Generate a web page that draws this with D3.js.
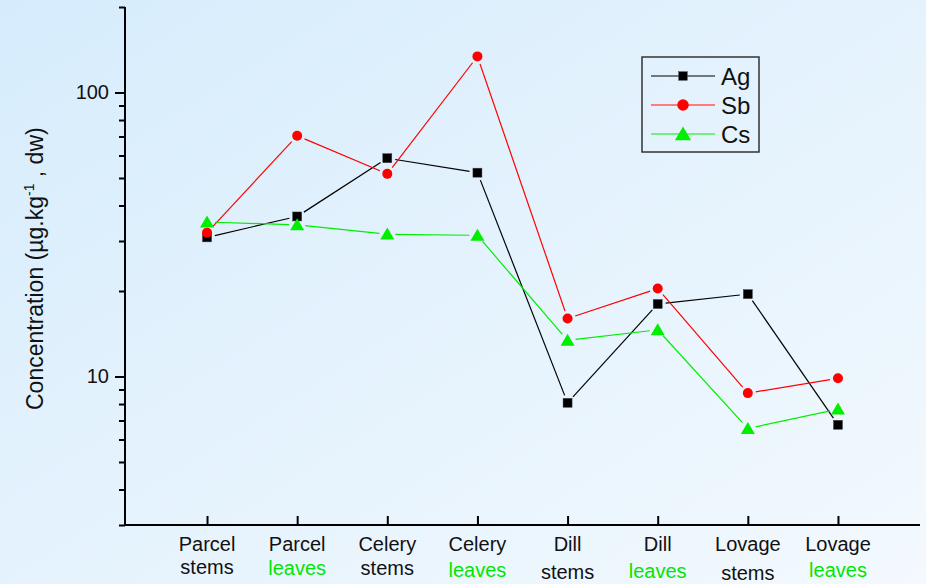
<!DOCTYPE html>
<html>
<head>
<meta charset="utf-8">
<script src="https://cdn.jsdelivr.net/npm/d3@7/dist/d3.min.js"></script>
<style>
  html, body { margin: 0; padding: 0; }
  svg { display: block; font-family: "Liberation Sans", Arial, sans-serif; }
</style>
</head>
<body>
<svg id="chart" width="926" height="584"></svg>
<script>
// Plant parts (two-line category labels)
const plants = ["Parcel", "Parcel", "Celery", "Celery", "Dill", "Dill", "Lovage", "Lovage"];
const parts  = ["stems", "leaves", "stems", "leaves", "stems", "leaves", "stems", "leaves"];

// Element concentrations, µg/kg dry weight
const agValues = [30.9, 36.6, 58.7, 52.2, 8.08, 18.0, 19.5, 6.76];
const sbValues = [32.1, 70.4, 51.7, 134, 16.0, 20.4, 8.74, 9.86];
const csValues = [35.0, 34.2, 31.7, 31.4, 13.4, 14.6, 6.56, 7.67];

const seriesNames = ["Ag", "Sb", "Cs"];

// Axis ticks
const majorTicks = [10, 100];
const minorTicks = [3, 4, 5, 6, 7, 8, 9, 20, 30, 40, 50, 60, 70, 80, 90, 200];

const svg = d3.select("#chart");
const W = 926, H = 584;

// soft blue background
const defs = svg.append("defs");
const grad = defs.append("linearGradient").attr("id", "bg")
  .attr("x1", "0").attr("y1", "0").attr("x2", "1").attr("y2", "1");
grad.append("stop").attr("offset", "0").attr("stop-color", "#d6ecfc");
grad.append("stop").attr("offset", "1").attr("stop-color", "#f3f9fe");
svg.append("rect").attr("width", W).attr("height", H).attr("fill", "url(#bg)");

const plotLeft = 125, plotRight = 920, plotTop = 7, plotBottom = 525;
const keys = plants.map((p, i) => i);

const x = d3.scalePoint().domain(keys).range([plotLeft, plotRight]).padding(0.91);
const y = d3.scaleLog().domain([3, 200]).range([plotBottom, plotTop]);

// y axis: major + minor ticks
const yMajor = svg.append("g").attr("transform", `translate(${plotLeft},0)`)
  .call(d3.axisLeft(y).tickValues(majorTicks).tickSize(10).tickSizeOuter(0).tickPadding(6).tickFormat(d3.format("d")));
const yMinor = svg.append("g").attr("transform", `translate(${plotLeft},0)`)
  .call(d3.axisLeft(y).tickValues(minorTicks).tickSize(6).tickSizeOuter(0).tickFormat(""));
[yMajor, yMinor].forEach(g => {
  g.select(".domain").remove();
  g.selectAll(".tick line").attr("stroke", "#000").attr("stroke-width", 2);
});
yMajor.selectAll(".tick text").attr("font-size", 20).attr("fill", "#111")
  .attr("font-family", "Liberation Sans, Arial, sans-serif");

// x axis: inward ticks
const xAxis = svg.append("g").attr("transform", `translate(0,${plotBottom})`)
  .call(d3.axisBottom(x).tickSize(-9).tickSizeOuter(0).tickFormat(""));
xAxis.select(".domain").remove();
xAxis.selectAll(".tick line").attr("stroke", "#000").attr("stroke-width", 2);

// axis lines
svg.append("line").attr("x1", plotLeft).attr("x2", plotLeft).attr("y1", plotTop).attr("y2", plotBottom + 1)
  .attr("stroke", "#000").attr("stroke-width", 2);
svg.append("line").attr("x1", plotLeft - 1).attr("x2", plotRight).attr("y1", plotBottom).attr("y2", plotBottom)
  .attr("stroke", "#000").attr("stroke-width", 2);

// category labels
const secondLineY = [574, 575, 575, 577, 579, 578, 580, 577];
keys.forEach(i => {
  svg.append("text").attr("x", x(i)).attr("y", 551).attr("text-anchor", "middle")
    .attr("font-size", 20).attr("fill", "#111").text(plants[i]);
  svg.append("text").attr("x", x(i)).attr("y", secondLineY[i]).attr("text-anchor", "middle")
    .attr("font-size", 20).attr("fill", parts[i] === "leaves" ? "#00e600" : "#111").text(parts[i]);
});

// y axis title
const yTitle = svg.append("text").attr("transform", "translate(43,410) rotate(-90)")
  .attr("font-size", 23).attr("fill", "#111");
yTitle.append("tspan").text("Concentration (µg.kg");
yTitle.append("tspan").attr("dy", -9).attr("font-size", 14).text("-1");
yTitle.append("tspan").attr("dy", 9).text(" , dw)");

// series
const series = [
  { name: "Ag", values: agValues, color: "#000000", shape: "square" },
  { name: "Sb", values: sbValues, color: "#ff0000", shape: "circle" },
  { name: "Cs", values: csValues, color: "#00ee00", shape: "triangle" }
];

function drawMarker(g, shape, cx, cy, s) {
  if (shape === "square") {
    g.append("rect").attr("x", cx - 4.5 * s).attr("y", cy - 4.5 * s)
      .attr("width", 9 * s).attr("height", 9 * s).attr("fill", "#000")
      .attr("stroke", "#444").attr("stroke-width", 0.5);
  } else if (shape === "circle") {
    g.append("circle").attr("cx", cx).attr("cy", cy).attr("r", 5 * s).attr("fill", "#ff0000");
  } else {
    const w = 7 * s, h = 12 * s;
    g.append("path")
      .attr("d", `M${cx},${cy - h * 0.55}L${cx + w},${cy + h * 0.45}L${cx - w},${cy + h * 0.45}Z`)
      .attr("fill", "#00ee00");
  }
}

const gap = 8;
series.forEach(sr => {
  const g = svg.append("g");
  const pts = sr.values.map((v, i) => [x(i), y(v)]);
  for (let i = 0; i < pts.length - 1; i++) {
    const [x0, y0] = pts[i], [x1, y1] = pts[i + 1];
    const len = Math.hypot(x1 - x0, y1 - y0);
    const ux = (x1 - x0) / len, uy = (y1 - y0) / len;
    g.append("line")
      .attr("x1", x0 + ux * gap).attr("y1", y0 + uy * gap)
      .attr("x2", x1 - ux * gap).attr("y2", y1 - uy * gap)
      .attr("stroke", sr.color).attr("stroke-width", 1.2);
  }
  pts.forEach(([px, py]) => drawMarker(g, sr.shape, px, py, 1));
});

// legend
const lg = svg.append("g");
lg.append("rect").attr("x", 642).attr("y", 57).attr("width", 117).attr("height", 95)
  .attr("fill", "none").attr("stroke", "#333").attr("stroke-width", 1.5);
const legendRows = [76, 105, 134];
series.forEach((sr, i) => {
  const ly = legendRows[i];
  lg.append("line").attr("x1", 651).attr("x2", 715).attr("y1", ly).attr("y2", ly)
    .attr("stroke", sr.name === "Sb" ? "#ff7c7c" : sr.color)
    .attr("stroke-width", sr.name === "Sb" ? 2 : 1.2);
  drawMarker(lg, sr.shape, 683, ly, sr.shape === "square" ? 0.95 : 1.15);
  lg.append("text").attr("x", 721).attr("y", ly + 9).attr("font-size", 24).attr("fill", "#111")
    .text(seriesNames[i]);
});
</script>
</body>
</html>
